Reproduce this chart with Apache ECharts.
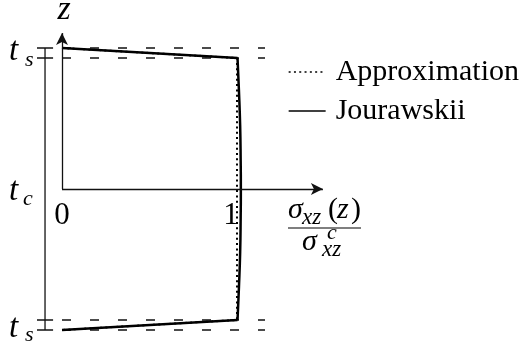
<!DOCTYPE html>
<html>
<head>
<meta charset="utf-8">
<script src="https://cdn.jsdelivr.net/npm/echarts@6/dist/echarts.min.js"></script>
<style>
  html, body { margin: 0; padding: 0; background: #fff; }
  #chart { width: 523px; height: 347px; }
</style>
</head>
<body>
<div id="chart"></div>
<script>
// z is normalised so that the outer skin surfaces sit at +-1
const guideZ = [1, 0.929, -0.929, -1]
const guideX = [0, 1.16]

// Jourawskii shear stress profile
const skinTopZ = [1, 0.929]
const skinTopVal = [0, 1.003]
const coreZ = [0.929, 0.7, 0.45, 0.2, 0, -0.2, -0.45, -0.7, -0.929]
const coreVal = [1.003, 1.011, 1.018, 1.021, 1.022, 1.021, 1.018, 1.011, 1.003]
const skinBotZ = [-0.929, -1]
const skinBotVal = [1.003, 0]

// approximation
const approxZ = [1, 0.929, -0.929, -1]
const approxVal = [0, 1, 1, 0]

// dimension line on the left
const dimX = -0.097
const dimTickX = [-0.143, -0.051]

const xTickVals = [0, 1]
const xTickLabels = ['0', '1']
const axisEndX = 1.491
const axisEndZ = 1.106

const serif = '"Liberation Serif", "DejaVu Serif", serif'
const ink = '#000'

const pairs = (xs, zs) => xs.map((x, i) => [x, zs[i]])

const chart = echarts.init(document.getElementById('chart'), null, { renderer: 'canvas' })

const guideSeries = guideZ.map(z => ({
  type: 'line',
  silent: true,
  symbol: 'none',
  data: guideX.map(x => [x, z]),
  lineStyle: { color: '#111', width: 1.3, type: [9, 19] }
}))

const tickSeries = guideZ.map(z => ({
  type: 'line',
  silent: true,
  symbol: 'none',
  data: dimTickX.map(x => [x, z]),
  lineStyle: { color: '#111', width: 1.3 }
}))

const text = (str, x, y, size, italic, align) => ({
  type: 'text',
  silent: true,
  style: {
    text: str,
    x: x,
    y: y,
    font: (italic ? 'italic ' : '') + size + 'px ' + serif,
    fill: ink,
    align: align || 'left',
    textAlign: align || 'left',
    verticalAlign: 'middle',
    textVerticalAlign: 'middle'
  }
})

const option = {
  animation: false,
  backgroundColor: '#fff',
  grid: {
    left: 62 - 0.35 * 175,
    top: 189 - 1.15 * 141,
    width: 1.85 * 175,
    height: 2.3 * 141,
    outerBoundsMode: 'none',
    containLabel: false
  },
  xAxis: { type: 'value', min: -0.35, max: 1.5, show: false },
  yAxis: { type: 'value', min: -1.15, max: 1.15, show: false },
  legend: {
    data: ['Approximation', 'Jourawskii'],
    orient: 'vertical',
    left: 288,
    top: 54,
    padding: 0,
    itemWidth: 37,
    itemHeight: 10,
    itemGap: 3,
    selectedMode: false,
    itemStyle: { opacity: 0 },
    lineStyle: { width: 1.3 },
    textStyle: {
      fontFamily: serif,
      fontSize: 30,
      lineHeight: 24,
      color: ink,
      padding: [0, 0, 12, 5]
    }
  },
  series: [
    ...guideSeries,
    ...tickSeries,
    {
      type: 'line',
      silent: true,
      symbol: 'none',
      data: [[dimX, 1], [dimX, -1]],
      lineStyle: { color: '#111', width: 1.3 }
    },
    {
      // coordinate axes with arrow heads
      type: 'line',
      silent: true,
      symbol: 'none',
      data: [[0, 0]],
      markLine: {
        silent: true,
        symbol: ['none', 'arrow'],
        symbolSize: [9, 12],
        label: { show: false },
        lineStyle: { color: '#111', width: 1.3, type: 'solid' },
        emphasis: { disabled: true },
        data: [
          [{ coord: [0, 0] }, { coord: [axisEndX, 0] }],
          [{ coord: [0, 0] }, { coord: [0, axisEndZ] }]
        ]
      }
    },
    {
      type: 'scatter',
      silent: true,
      symbolSize: 0,
      itemStyle: { opacity: 1 },
      data: xTickVals.map((v, i) => ({
        value: [v, 0],
        label: {
          show: true,
          formatter: xTickLabels[i],
          position: 'inside',
          offset: [i === 0 ? 0 : -6, 27],
          fontFamily: serif,
          fontSize: 31,
          color: ink,
          textBorderWidth: 0
        }
      }))
    },
    {
      name: 'Approximation',
      type: 'line',
      symbol: 'none',
      data: pairs(approxVal, approxZ),
      itemStyle: { color: ink },
      lineStyle: { color: ink, width: 2, type: [2, 3.3] }
    },
    {
      name: 'Jourawskii',
      type: 'line',
      symbol: 'none',
      data: pairs(skinTopVal, skinTopZ),
      itemStyle: { color: ink },
      lineStyle: { color: ink, width: 2.5 }
    },
    {
      name: 'Jourawskii',
      type: 'line',
      symbol: 'none',
      smooth: true,
      data: pairs(coreVal, coreZ),
      itemStyle: { color: ink },
      lineStyle: { color: ink, width: 2.5 }
    },
    {
      name: 'Jourawskii',
      type: 'line',
      symbol: 'none',
      data: pairs(skinBotVal, skinBotZ),
      itemStyle: { color: ink },
      lineStyle: { color: ink, width: 2.5 }
    }
  ],
  graphic: [
    text('z', 64, 10, 34, true, 'center'),
    text('t', 9, 51, 33, true),
    text('s', 25, 60, 22, true),
    text('t', 9, 191, 33, true),
    text('c', 23, 199, 22, true),
    text('t', 9, 328, 33, true),
    text('s', 25, 335, 22, true),
    // sigma_xz(z) / sigma^c_xz
    text('σ', 288, 210, 30, true),
    text('xz', 302, 218, 23, true),
    text('(', 328, 210, 30, false),
    text('z', 337, 210, 30, true),
    text(')', 351, 210, 30, false),
    {
      type: 'line',
      silent: true,
      shape: { x1: 288, y1: 228, x2: 361, y2: 228 },
      style: { stroke: ink, lineWidth: 1.2 }
    },
    text('σ', 302, 242, 30, true),
    text('c', 327, 233, 22, true),
    text('xz', 322, 250, 23, true)
  ]
}

chart.setOption(option)
</script>
</body>
</html>
